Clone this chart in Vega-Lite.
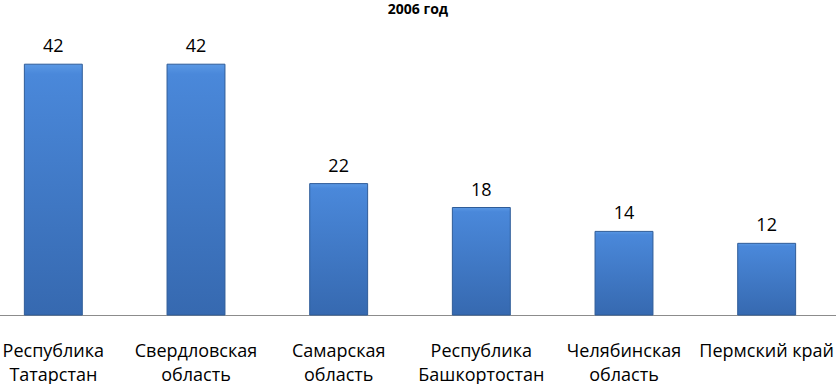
{
  "$schema": "https://vega.github.io/schema/vega-lite/v6.json",
  "width": 836,
  "height": 295,
  "autosize": {"type": "none"},
  "padding": {"top": 20, "bottom": 69, "left": 0, "right": 0},
  "background": "white",
  "title": {
    "text": "2006 год",
    "font": "Open Sans",
    "fontSize": 14,
    "fontWeight": "bold",
    "color": "#000000",
    "anchor": "middle",
    "offset": 3
  },
  "config": {"view": {"stroke": null}},
  "data": {
    "values": [
      {"region": "Республика\nТатарстан", "value": 42},
      {"region": "Свердловская\nобласть", "value": 42},
      {"region": "Самарская\nобласть", "value": 22},
      {"region": "Республика\nБашкортостан", "value": 18},
      {"region": "Челябинская\nобласть", "value": 14},
      {"region": "Пермский край", "value": 12}
    ]
  },
  "encoding": {
    "x": {
      "field": "region",
      "type": "nominal",
      "sort": null,
      "scale": {"range": [-18, 838], "paddingInner": 0.594, "paddingOuter": 0.297},
      "axis": {
        "title": null,
        "ticks": false,
        "labelAngle": 0,
        "labelExpr": "split(datum.label, '\\n')",
        "labelFont": "Open Sans",
        "labelFontSize": 18,
        "labelColor": "#000000",
        "labelBaseline": "top",
        "labelPadding": 27,
        "labelLineHeight": 24,
        "labelOverlap": false,
        "labelLimit": 0,
        "domainColor": "#8c8c8c",
        "domainWidth": 1,
        "grid": false
      }
    },
    "y": {
      "field": "value",
      "type": "quantitative",
      "scale": {"domain": [0, 49.4], "nice": false},
      "axis": null
    }
  },
  "layer": [
    {
      "mark": {
        "type": "bar",
        "stroke": "#2f5c98",
        "strokeWidth": 1,
        "color": {
          "gradient": "linear",
          "x1": 0, "y1": 0, "x2": 0, "y2": 1,
          "stops": [
            {"offset": 0, "color": "#5a98e4"},
            {"offset": 0.04, "color": "#4a88da"},
            {"offset": 1, "color": "#3669b0"}
          ]
        }
      }
    },
    {
      "mark": {
        "type": "text",
        "baseline": "alphabetic",
        "dy": -12,
        "font": "Open Sans",
        "fontSize": 18,
        "color": "#000000"
      },
      "encoding": {"text": {"field": "value", "type": "quantitative"}}
    }
  ]
}
